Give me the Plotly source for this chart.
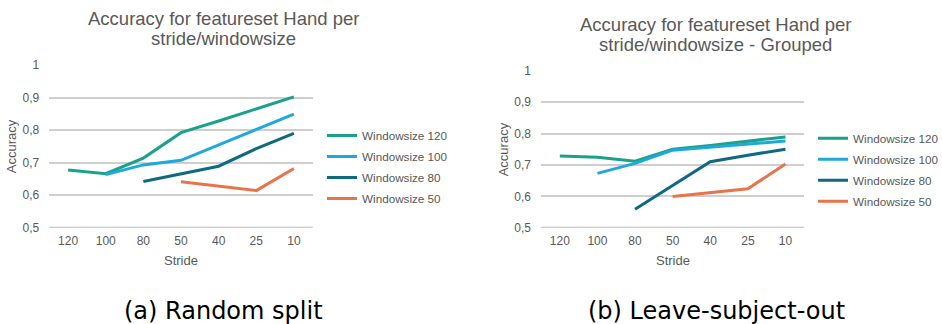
import plotly.graph_objects as go

W, H = 942, 324

# Stride categories along the x axis
strides = ["120", "100", "80", "50", "40", "25", "10"]
y_ticks = [0.5, 0.6, 0.7, 0.8, 0.9, 1.0]
y_tick_labels = ["0,5", "0,6", "0,7", "0,8", "0,9", "1"]

series_names = ["Windowsize 120", "Windowsize 100", "Windowsize 80", "Windowsize 50"]
series_colors = ["#1AA18A", "#1EA9DA", "#0E6A7F", "#E8744B"]

# (a) Random split
rand_ws120 = [0.677, 0.666, 0.714, 0.792, 0.828, 0.866, 0.902]
rand_ws100 = [None, 0.663, 0.693, 0.707, 0.755, 0.801, 0.849]
rand_ws80 = [None, None, 0.642, 0.666, 0.689, 0.743, 0.790]
rand_ws50 = [None, None, None, 0.641, 0.628, 0.614, 0.682]

# (b) Leave-subject-out (grouped)
grp_ws120 = [0.728, 0.724, 0.712, 0.750, 0.762, 0.776, 0.789]
grp_ws100 = [None, 0.673, 0.705, 0.747, 0.757, 0.766, 0.776]
grp_ws80 = [None, None, 0.559, 0.635, 0.710, 0.731, 0.750]
grp_ws50 = [None, None, None, 0.599, 0.612, 0.624, 0.703]

TEXT = "#595959"
FONT = "Liberation Sans, Arial, sans-serif"

def px_x(p):
    return p / W

def px_y(p):
    return 1 - p / H

fig = go.Figure()
x_idx = list(range(len(strides)))

panels = [
    ("x", "y", "legend", [rand_ws120, rand_ws100, rand_ws80, rand_ws50]),
    ("x2", "y2", "legend2", [grp_ws120, grp_ws100, grp_ws80, grp_ws50]),
]
for xa, ya, leg, data in panels:
    for name, color, vals in zip(series_names, series_colors, data):
        fig.add_trace(go.Scatter(
            x=x_idx, y=vals, mode="lines", name=name,
            line=dict(color=color, width=3),
            xaxis=xa, yaxis=ya, legend=leg,
            legendgroup=leg + name,
            connectgaps=False,
        ))

axis_common_x = dict(
    tickmode="array", tickvals=x_idx, ticktext=strides,
    range=[-0.5, len(strides) - 0.5], showgrid=False, zeroline=False,
    showline=False, ticks="", tickfont=dict(size=12, color=TEXT, family=FONT),
    ticklabelstandoff=4, fixedrange=True,
)
axis_common_y = dict(
    tickmode="array", tickvals=y_ticks, ticktext=y_tick_labels,
    range=[0.5, 1.0], showgrid=True, gridcolor="#CFCFCF", gridwidth=1.6,
    zeroline=False, showline=False, ticks="",
    tickfont=dict(size=12, color=TEXT, family=FONT),
    ticklabelstandoff=9, fixedrange=True,
)

left_x = [px_x(49.3), px_x(312.7)]
right_x = [px_x(541), px_x(804.3)]
left_y = [px_y(227.7), px_y(65)]
right_y = [px_y(227.7), px_y(70.7)]

legend_common = dict(
    font=dict(size=11.7, color=TEXT, family=FONT),
    bgcolor="rgba(0,0,0,0)", borderwidth=0,
    tracegroupgap=2, xanchor="left", yanchor="middle",
    itemclick=False, itemdoubleclick=False,
)

fig.update_layout(
    width=W, height=H,
    margin=dict(l=0, r=0, t=0, b=0, autoexpand=False),
    paper_bgcolor="white", plot_bgcolor="white",
    font=dict(family=FONT, color=TEXT),
    xaxis=dict(domain=left_x, anchor="y", **axis_common_x),
    yaxis=dict(domain=left_y, anchor="x", **axis_common_y),
    xaxis2=dict(domain=right_x, anchor="y2", **axis_common_x),
    yaxis2=dict(domain=right_y, anchor="x2", **axis_common_y),
    legend=dict(x=px_x(322), y=px_y(167), **legend_common),
    legend2=dict(x=px_x(813), y=px_y(169.7), **legend_common),
    showlegend=True,
)

# Baseline at 0.5 for each panel
for xref, yref in [("x", "y"), ("x2", "y2")]:
    fig.add_shape(type="line", xref=xref + " domain", yref=yref,
                  x0=0, x1=1, y0=0.5, y1=0.5,
                  line=dict(color="#BDBDBD", width=2), layer="below")

annotations = []
# Chart titles (two lines each)
for cx, y1, y2, l1, l2 in [
    (223.7, 18.5, 39.0, "Accuracy for featureset Hand per", "stride/windowsize"),
    (715.8, 24.0, 44.3, "Accuracy for featureset Hand per", "stride/windowsize - Grouped"),
]:
    for yy, txt in [(y1, l1), (y2, l2)]:
        annotations.append(dict(
            x=px_x(cx), y=px_y(yy), xref="paper", yref="paper",
            text=txt, showarrow=False, xanchor="center", yanchor="middle",
            font=dict(size=18.5, color=TEXT, family=FONT),
        ))

# Axis titles
for cx, cy in [(180.9, 260.0), (672.6, 260.0)]:
    annotations.append(dict(
        x=px_x(cx), y=px_y(cy), xref="paper", yref="paper", text="Stride",
        showarrow=False, xanchor="center", yanchor="middle",
        font=dict(size=13, color=TEXT, family=FONT),
    ))
for cx, cy in [(11.7, 146.5), (503.3, 149.0)]:
    annotations.append(dict(
        x=px_x(cx), y=px_y(cy), xref="paper", yref="paper", text="Accuracy",
        showarrow=False, xanchor="center", yanchor="middle", textangle=-90,
        font=dict(size=13, color=TEXT, family=FONT),
    ))

# Sub-figure captions
for cx, txt in [(223.3, "(a) Random split"), (716.5, "(b) Leave-subject-out")]:
    annotations.append(dict(
        x=px_x(cx), y=px_y(310.5), xref="paper", yref="paper", text=txt,
        showarrow=False, xanchor="center", yanchor="middle",
        font=dict(size=24, color="black", family="DejaVu Sans"),
    ))

fig.update_layout(annotations=annotations)

fig.write_html("out.html", config={"displayModeBar": False})
